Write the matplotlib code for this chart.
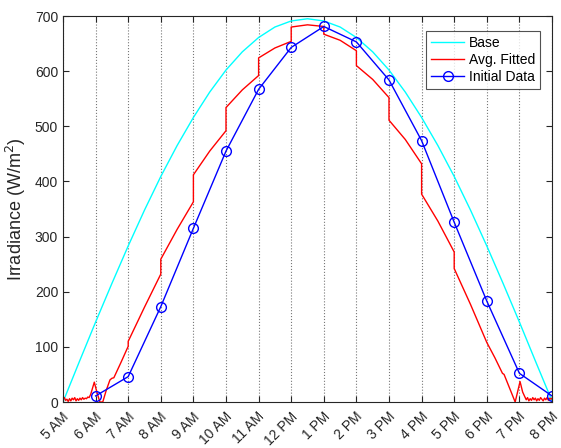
import matplotlib
matplotlib.use("Agg")
import matplotlib.pyplot as plt
import matplotlib.transforms as mtransforms

plt.rcParams['font.family'] = ['Liberation Sans', 'DejaVu Sans']

# ---- data ----
hour_ticks = [5, 6, 7, 8, 9, 10, 11, 12, 13, 14, 15, 16, 17, 18, 19, 20]
hour_labels = ['5 AM', '6 AM', '7 AM', '8 AM', '9 AM', '10 AM', '11 AM', '12 PM',
               '1 PM', '2 PM', '3 PM', '4 PM', '5 PM', '6 PM', '7 PM', '8 PM']

base_t = [5.0, 5.5, 6.0, 6.5, 7.0, 7.5, 8.0, 8.5, 9.0, 9.5, 10.0, 10.5, 11.0, 11.5,
          12.0, 12.5, 13.0, 13.5, 14.0, 14.5, 15.0, 15.5, 16.0, 16.5, 17.0, 17.5,
          18.0, 18.5, 19.0, 19.5, 20.0]
base_v = [0, 73, 145, 215, 283, 348, 409, 465, 516, 562, 602, 635, 661, 680,
          691, 695, 691, 680, 661, 635, 602, 562, 516, 465, 409, 348,
          283, 215, 145, 73, 2]

red_t = [5.00, 5.04, 5.08, 5.12, 5.16, 5.20, 5.24, 5.28, 5.32, 5.36, 5.40, 5.44,
         5.48, 5.52, 5.56, 5.60, 5.64, 5.68, 5.72, 5.76, 5.80, 5.85, 5.90, 5.96,
         6.03, 6.13, 6.22, 6.32, 6.44, 6.50, 6.56, 6.78, 7.00, 7.00, 7.5, 8.0,
         8.0, 8.5, 9.0, 9.0, 9.5, 10.0, 10.0, 10.5, 11.0, 11.0, 11.5, 12.0, 12.0,
         12.5, 13.0, 13.0, 13.5, 14.0, 14.0, 14.5, 15.0, 15.0, 15.5, 16.0, 16.0,
         16.5, 17.0, 17.0, 17.5, 18.0, 18.25, 18.48, 18.53, 18.87, 19.02, 19.10,
         19.17, 19.21, 19.25, 19.29, 19.33, 19.37, 19.41, 19.45, 19.49, 19.53,
         19.57, 19.61, 19.65, 19.69, 19.73, 19.77, 19.81, 19.85, 19.89, 19.93,
         19.97, 20.0]
red_v = [7, 8, 3, 5, 1, 6, 2, 7, 4, 8, 2, 6,
         3, 7, 4, 8, 5, 7, 6, 9, 8, 14, 24, 36,
         20, 0, 0, 20, 40, 43, 44, 72, 101, 110, 172, 232,
         259, 313, 363, 412, 455, 492, 534, 566, 592, 624, 642, 654, 680,
         684, 681, 667, 656, 637, 610, 585, 552, 511, 476, 432, 377,
         328, 272, 242, 177, 108, 80, 52, 50, 0, 37, 18,
         9, 4, 8, 2, 6, 3, 8, 4, 7, 2,
         6, 3, 8, 5, 2, 7, 4, 8, 3, 7,
         5, 7]

init_t = [6, 7, 8, 9, 10, 11, 12, 13, 14, 15, 16, 17, 18, 19, 20]
init_v = [11, 46, 173, 315, 455, 567, 643, 681, 653, 584, 474, 326, 183, 52, 11]

# ---- figure ----
fig = plt.figure(figsize=(5.61, 4.48), dpi=100)
ax = fig.add_axes([63/561, 1 - 402/448, (552 - 63)/561, (402 - 16)/448])

ax.plot(base_t, base_v, color=(0, 1, 1), lw=1.0, label='Base')
ax.plot(red_t, red_v, color=(1, 0, 0), lw=1.0, label='Avg. Fitted')
ax.plot(init_t, init_v, color=(0, 0, 1), lw=1.0, marker='o', ms=7,
        mfc='none', mec=(0, 0, 1), mew=1.0, label='Initial Data')

ax.set_xlim(5, 20)
ax.set_ylim(0, 700)
ax.set_xticks(hour_ticks)
ax.set_xticklabels(hour_labels, rotation=45, ha='right', va='center',
                   rotation_mode='anchor', fontsize=10, color='#262626')
ax.set_yticks(range(0, 701, 100))
ax.tick_params(axis='y', labelsize=10, labelcolor='#262626')
ax.tick_params(direction='in', length=4, width=0.8, colors='#262626',
               top=True, right=True)
ax.tick_params(axis='x', pad=9)
for lab in ax.get_xticklabels():
    lab.set_transform(lab.get_transform() +
                      mtransforms.ScaledTranslation(4/100, 0, fig.dpi_scale_trans))

ax.xaxis.grid(True, linestyle=':', color='#555555', lw=0.8, alpha=0.8)
ax.set_axisbelow(True)
for s in ax.spines.values():
    s.set_color('#262626')
    s.set_linewidth(0.8)

ax.set_ylabel('Irradiance (W/m$^2$)', fontsize=13, color='#262626', labelpad=5)

leg = ax.legend(loc='upper right', bbox_to_anchor=(0.975, 0.96), fontsize=10,
                frameon=True, fancybox=False, edgecolor='#262626',
                handlelength=2.4, borderpad=0.35, labelspacing=0.2,
                handletextpad=0.3, borderaxespad=0.0)
leg.get_frame().set_linewidth(0.8)

fig.savefig('out.png', dpi=100)
